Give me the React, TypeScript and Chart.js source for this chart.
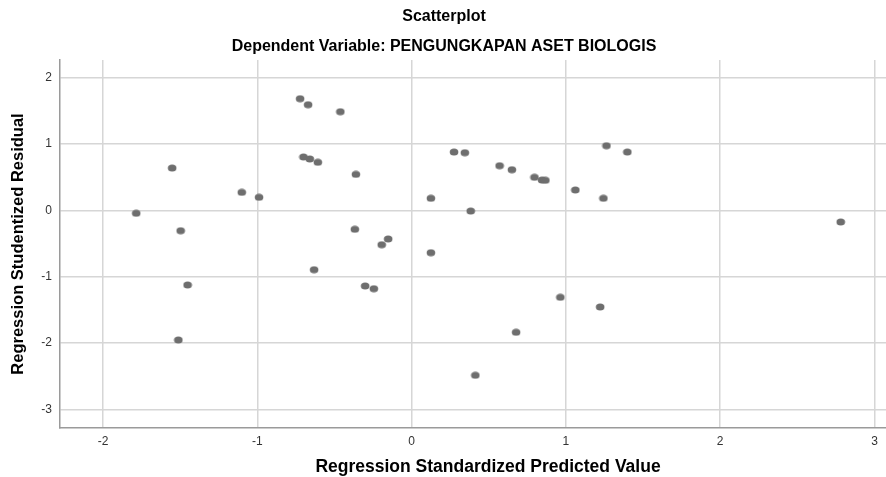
import React, { useEffect, useRef } from 'react';
import { Chart, registerables } from 'chart.js';

Chart.register(...registerables);

const titleText = 'Scatterplot';
const subtitleText = 'Dependent Variable: PENGUNGKAPAN ASET BIOLOGIS';
const xAxisTitle = 'Regression Standardized Predicted Value';
const yAxisTitle = 'Regression Studentized Residual';

const xTickValues = [-2, -1, 0, 1, 2, 3];
const yTickValues = [-3, -2, -1, 0, 1, 2];

const predicted = [
  -1.785, -1.552, -1.512, -1.497, -1.452, -1.101, -0.989, -0.723, -0.701, -0.671,
  -0.66, -0.632, -0.608, -0.462, -0.368, -0.361, -0.301, -0.245, -0.194, -0.152,
  0.125, 0.125, 0.275, 0.345, 0.383, 0.413, 0.57, 0.65, 0.677, 0.796,
  0.845, 0.867, 0.964, 1.061, 1.222, 1.243, 1.263, 1.398, 2.781,
];
const residual = [
  -0.045, 0.637, -1.953, -0.307, -1.125, 0.271, 0.196, 1.681, 0.803, 1.59,
  0.773, -0.895, 0.723, 1.485, -0.286, 0.542, -1.14, -1.181, -0.518, -0.432,
  0.181, -0.639, 0.878, 0.867, -0.011, -2.485, 0.672, 0.611, -1.837, 0.497,
  0.456, 0.452, -1.31, 0.306, -1.456, 0.181, 0.973, 0.878, -0.176,
];

const FONT = 'Arial, "Liberation Sans", sans-serif';

const headerPlugin = {
  id: 'header',
  afterDraw(chart: any) {
    const ctx = chart.ctx;
    ctx.save();
    ctx.fillStyle = '#000';
    ctx.textAlign = 'center';
    ctx.textBaseline = 'middle';
    ctx.font = `bold 16px ${FONT}`;
    ctx.fillText(titleText, 444, 17);
    ctx.fillText(subtitleText, 444, 47);
    ctx.restore();
  },
};

export default function App() {
  const ref = useRef<HTMLCanvasElement>(null);

  useEffect(() => {
    const canvas = ref.current;
    if (!canvas) return;
    const dot = document.createElement('canvas');
    dot.width = 10;
    dot.height = 8;
    const dctx = dot.getContext('2d');
    if (dctx) {
      dctx.fillStyle = '#6e6e6e';
      dctx.beginPath();
      dctx.ellipse(5, 4, 4.3, 3.5, 0, 0, Math.PI * 2);
      dctx.fill();
    }
    const points = predicted.map((x, i) => ({ x, y: residual[i] }));
    const chart = new Chart(canvas, {
      type: 'scatter',
      data: {
        datasets: [
          {
            data: points,
            pointStyle: dot as any,
            pointRadius: 4,
            pointHoverRadius: 4,
            backgroundColor: '#6e6e6e',
            borderWidth: 0,
          },
        ],
      },
      plugins: [headerPlugin],
      options: {
        responsive: false,
        animation: false,
        devicePixelRatio: 1,
        layout: { padding: { top: 60, left: 0, right: 0, bottom: 0 } },
        plugins: {
          legend: { display: false },
          tooltip: { enabled: false },
          title: { display: false },
          subtitle: { display: false },
        },
        scales: {
          x: {
            type: 'linear',
            min: -2.279,
            max: 3.269,
            afterBuildTicks: (axis: any) => {
              axis.ticks = xTickValues.map((v) => ({ value: v }));
            },
            afterFit: (scale: any) => {
              scale.height = 49;
            },
            grid: { color: '#d6d6d6', lineWidth: 1.5, drawTicks: false },
            border: { display: true, color: '#9a9a9a', width: 1.5 },
            ticks: { color: '#333', font: { family: FONT, size: 12 }, padding: 6 },
            title: {
              display: true,
              text: xAxisTitle,
              color: '#000',
              font: { family: FONT, size: 17.5, weight: 'bold' },
              padding: { top: 0, bottom: -1 },
            },
          },
          y: {
            type: 'linear',
            min: -3.279,
            max: 2.264,
            afterBuildTicks: (axis: any) => {
              axis.ticks = yTickValues.map((v) => ({ value: v }));
            },
            afterFit: (scale: any) => {
              scale.width = 60;
            },
            grid: { color: '#d6d6d6', lineWidth: 1.5, drawTicks: false },
            border: { display: true, color: '#9a9a9a', width: 1.5 },
            ticks: { color: '#333', font: { family: FONT, size: 12 }, padding: 8 },
            title: {
              display: true,
              text: yAxisTitle,
              color: '#000',
              font: { family: FONT, size: 16.5, weight: 'bold' },
              padding: { top: 9, bottom: 0 },
            },
          },
        },
      },
    });
    return () => chart.destroy();
  }, []);

  return (
    <div
      style={{
        position: 'fixed',
        left: 0,
        top: 0,
        width: 886,
        height: 477,
        overflow: 'hidden',
        background: '#fff',
      }}
    >
      <canvas ref={ref} width={920} height={477} style={{ display: 'block', width: 920, height: 477 }} />
    </div>
  );
}
